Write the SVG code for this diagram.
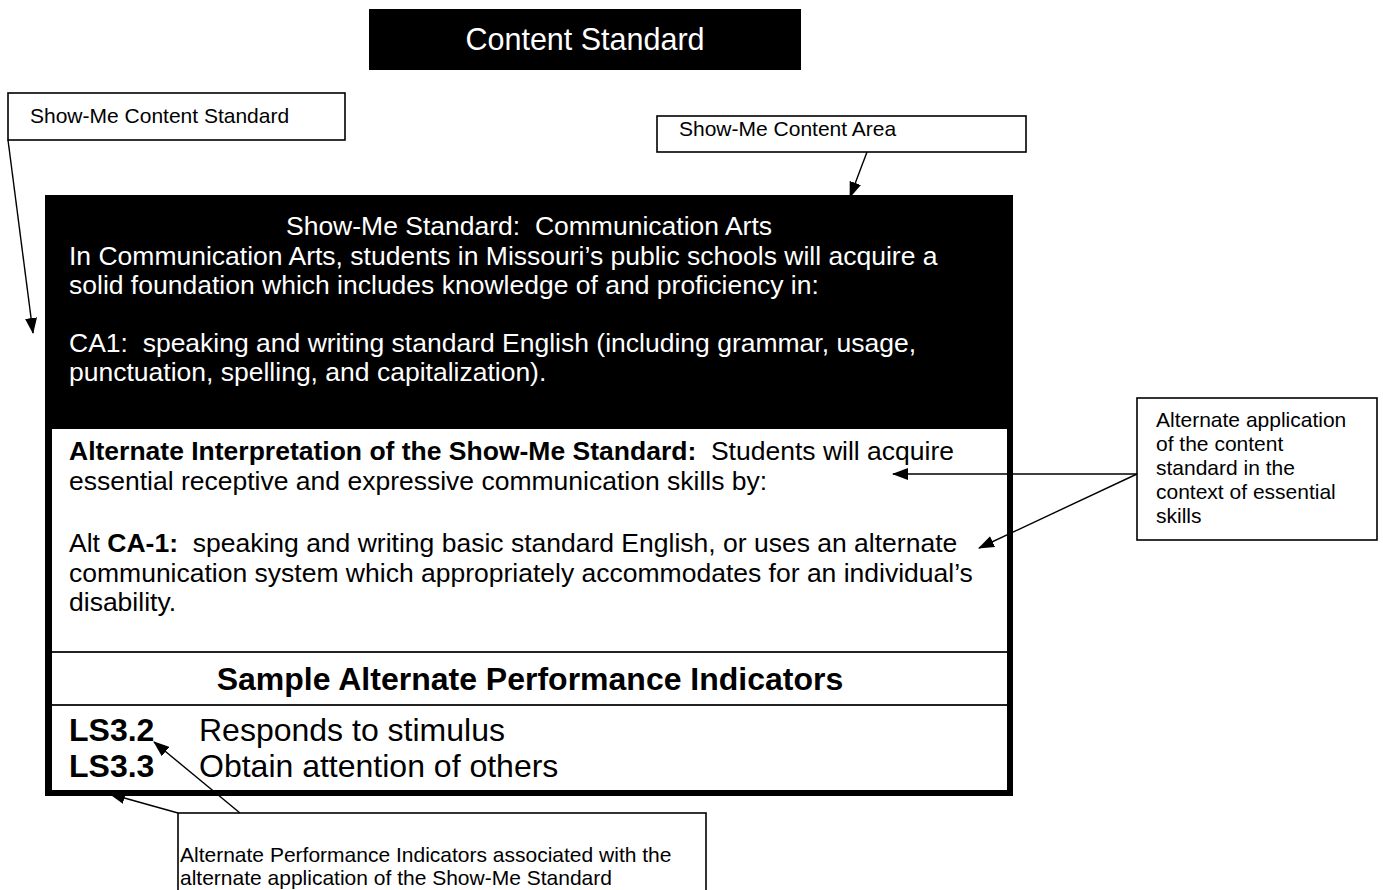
<svg xmlns="http://www.w3.org/2000/svg" width="1383" height="890" viewBox="0 0 1383 890">
  <style>
    text { font-family: "Liberation Sans", Arial, sans-serif; }
    .label { font-size: 21px; fill: #000; }
    .body { font-size: 26.5px; }
    .big { font-size: 32px; fill: #000; }
    .white { fill: #fff; }
    .ink { fill: #000; }
    .b { font-weight: bold; }
    .callout { fill: #fff; stroke: #000; stroke-width: 1.6; }
    .conn { stroke: #000; stroke-width: 1.4; fill: none; }
    .rule { stroke: #222; stroke-width: 2; }
  </style>
  <defs>
    <marker id="head" viewBox="0 0 16 12" refX="15" refY="6" markerWidth="16" markerHeight="12" markerUnits="userSpaceOnUse" orient="auto">
      <path d="M0,0 L16,6 L0,12 Z" fill="#000"/>
    </marker>
  </defs>

  <rect width="1383" height="890" fill="#fff"/>

  <!-- title bar -->
  <g id="content-standard">
    <rect x="369" y="9" width="432" height="61" fill="#000"/>
    <text class="white" x="585" y="50" font-size="30.5" text-anchor="middle">Content Standard</text>
  </g>

  <!-- callout labels -->
  <g id="label-content-standard">
    <rect class="callout" x="8" y="93" width="337" height="47"/>
    <text class="label" x="30" y="123">Show-Me Content Standard</text>
  </g>

  <g id="label-content-area">
    <rect class="callout" x="657" y="116" width="369" height="36"/>
    <text class="label" x="679" y="136">Show-Me Content Area</text>
  </g>

  <g id="label-alternate-application">
    <rect class="callout" x="1137" y="398" width="240" height="142"/>
    <text class="label" x="1156" y="427">Alternate application</text>
    <text class="label" x="1156" y="451">of the content</text>
    <text class="label" x="1156" y="475">standard in the</text>
    <text class="label" x="1156" y="499">context of essential</text>
    <text class="label" x="1156" y="523">skills</text>
  </g>

  <g id="label-performance-indicators">
    <rect class="callout" x="178" y="813" width="528" height="90"/>
    <text class="label" x="180" y="862">Alternate Performance Indicators associated with the</text>
    <text class="label" x="180" y="885">alternate application of the Show-Me Standard</text>
  </g>

  <!-- standard panel -->
  <g id="standard-panel">
    <rect x="45" y="195" width="968" height="601" fill="#000"/>
    <rect x="52" y="429" width="955" height="361" fill="#fff"/>
    <line class="rule" x1="52" y1="652" x2="1007" y2="652"/>
    <line class="rule" x1="52" y1="705" x2="1007" y2="705"/>

    <g class="body white">
      <text x="529" y="235" text-anchor="middle" xml:space="preserve">Show-Me Standard:  Communication Arts</text>
      <text x="69" y="265">In Communication Arts, students in Missouri’s public schools will acquire a</text>
      <text x="69" y="294">solid foundation which includes knowledge of and proficiency in:</text>
      <text x="69" y="352" xml:space="preserve">CA1:  speaking and writing standard English (including grammar, usage,</text>
      <text x="69" y="381">punctuation, spelling, and capitalization).</text>
    </g>

    <g class="body ink">
      <text x="69" y="460" xml:space="preserve"><tspan class="b">Alternate Interpretation of the Show-Me Standard:</tspan>  Students will acquire</text>
      <text x="69" y="490">essential receptive and expressive communication skills by:</text>
      <text x="69" y="552" xml:space="preserve">Alt <tspan class="b">CA-1:</tspan>  speaking and writing basic standard English, or uses an alternate</text>
      <text x="69" y="582">communication system which appropriately accommodates for an individual’s</text>
      <text x="69" y="611">disability.</text>
    </g>

    <text class="big b" x="530" y="690" text-anchor="middle">Sample Alternate Performance Indicators</text>

    <g class="big">
      <text class="b" x="69" y="741">LS3.2</text>
      <text x="199" y="741">Responds to stimulus</text>
      <text class="b" x="69" y="777">LS3.3</text>
      <text x="199" y="777">Obtain attention of others</text>
    </g>
  </g>

  <!-- connectors -->
  <g id="connectors">
    <line class="conn" x1="8" y1="140" x2="33" y2="333" marker-end="url(#head)"/>
    <line class="conn" x1="867" y1="152" x2="850" y2="197" marker-end="url(#head)"/>
    <line class="conn" x1="1137" y1="474" x2="893" y2="474" marker-end="url(#head)"/>
    <line class="conn" x1="1137" y1="474" x2="979" y2="548" marker-end="url(#head)"/>
    <line class="conn" x1="240" y1="813" x2="154" y2="742" marker-end="url(#head)"/>
    <line class="conn" x1="178" y1="813" x2="110" y2="794" marker-end="url(#head)"/>
  </g>
</svg>
